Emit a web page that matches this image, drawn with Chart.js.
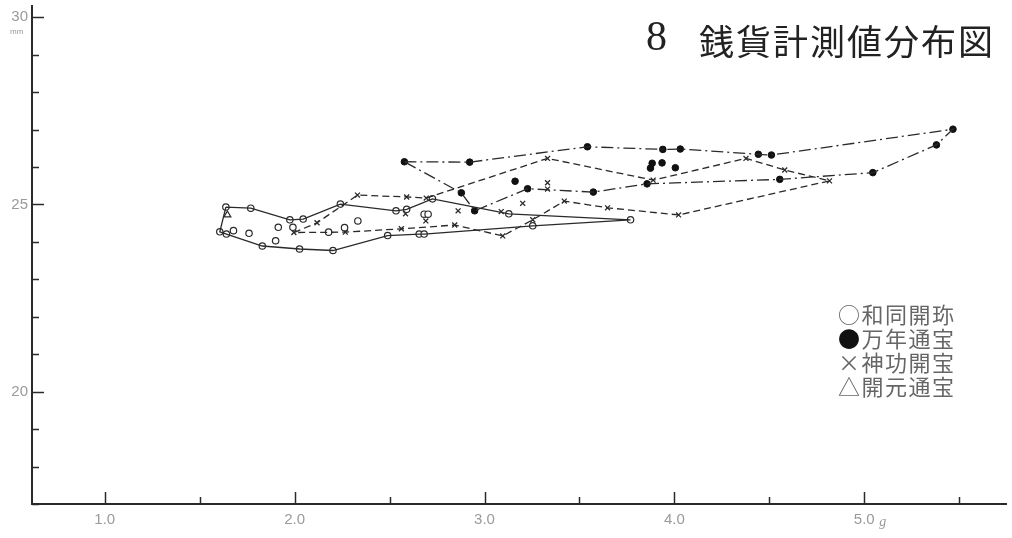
<!DOCTYPE html>
<html>
<head>
<meta charset="utf-8">
<script src="https://cdn.jsdelivr.net/npm/chart.js@4.4.1/dist/chart.umd.min.js"></script>
<style>
    body { margin: 0; background: #fff; }
    #wrap { position: relative; width: 1012px; height: 538px; }
    #title-num { position: absolute; left: 646px; top: 12px; font-family: "Liberation Serif", serif; font-size: 42px; color: #222; }
    #title-text { position: absolute; left: 699px; top: 14px; font-family: "Noto Sans CJK JP", sans-serif; font-size: 35px; letter-spacing: 2px; color: #222; }
    #legend { position: absolute; left: 838px; top: 301px; font-family: "Noto Sans CJK JP", sans-serif; font-size: 22px; line-height: 24px; letter-spacing: 1.5px; color: #666; }
    #unit { position: absolute; left: 10px; top: 27px; font-family: "Liberation Sans", sans-serif; font-size: 8px; color: #999; }
</style>
</head>
<body>
<div id="wrap">
    <canvas id="chart" width="1012" height="538"></canvas>
    <div id="title-num">8</div>
    <div id="title-text">銭貨計測値分布図</div>
    <div id="unit">mm</div>
    <div id="legend">
        <div>○和同開珎</div>
        <div><span style="color:#111">●</span>万年通宝</div>
        <div>×神功開宝</div>
        <div>△開元通宝</div>
    </div>
</div>
<script>
// weight (g) / diameter (mm)
const wadoX = [1.638, 1.769, 1.606, 1.678, 1.641, 1.760, 1.914, 1.975, 2.045, 1.991,
               1.900, 1.830, 2.026, 2.202, 2.241, 2.179, 2.263, 2.333, 2.490, 2.534,
               2.590, 2.656, 2.682, 2.682, 2.703, 2.726, 3.128, 3.254, 3.769];
const wadoY = [24.93, 24.90, 24.27, 24.30, 24.21, 24.23, 24.39, 24.59, 24.61, 24.39,
               24.03, 23.89, 23.81, 23.77, 25.01, 24.26, 24.38, 24.56, 24.17, 24.83,
               24.87, 24.21, 24.21, 24.74, 24.74, 25.15, 24.75, 24.43, 24.59];
const wadoHull = [0, 1, 7, 8, 14, 19, 20, 25, 26, 28, 27, 22, 21, 18, 13, 12, 11, 4, 2, 0];

const mannenX = [2.578, 2.922, 2.878, 2.948, 3.161, 3.227, 3.542, 3.573, 3.856, 3.883,
                 3.874, 3.935, 4.005, 3.939, 4.031, 4.442, 4.511, 5.467, 5.380, 5.045, 4.555];
const mannenY = [26.14, 26.13, 25.31, 24.83, 25.62, 25.42, 26.54, 25.33, 25.55, 26.10,
                 25.97, 26.11, 25.98, 26.47, 26.48, 26.34, 26.32, 27.01, 26.59, 25.85, 25.67];
const mannenHull = [0, 1, 6, 13, 14, 15, 16, 17, 18, 19, 20, 8, 7, 5, 3, 2, 0];

const jinkoX = [1.996, 2.118, 2.331, 2.590, 2.693, 2.584, 2.691, 2.267, 2.562, 2.843,
                2.861, 3.096, 3.254, 3.201, 3.332, 3.332, 3.332, 3.420, 3.648, 4.022,
                3.888, 4.377, 4.581, 4.817, 3.088];
const jinkoY = [24.25, 24.51, 25.25, 25.20, 25.17, 24.75, 24.56, 24.26, 24.35, 24.45,
                24.83, 24.16, 24.59, 25.03, 26.23, 25.58, 25.41, 25.09, 24.91, 24.72,
                25.65, 26.23, 25.92, 25.63, 24.81];
const jinkoHull = [0, 1, 2, 3, 4, 14, 20, 21, 22, 23, 19, 18, 17, 12, 11, 9, 8, 7, 0];

const kaigenX = [1.646];
const kaigenY = [24.72];

const xTicks = [1.0, 1.5, 2.0, 2.5, 3.0, 3.5, 4.0, 4.5, 5.0, 5.5];
const yTicks = [17, 18, 19, 20, 21, 22, 23, 24, 25, 26, 27, 28, 29, 30];

const pts = (xs, ys) => xs.map((x, i) => ({ x: x, y: ys[i] }));
const hull = (xs, ys, idx) => idx.map(i => ({ x: xs[i], y: ys[i] }));

const ink = '#2a2a2a';

// inward tick marks + the "g" after 5.0
const axisMarks = {
    id: 'axisMarks',
    afterDraw(chart) {
        const ctx = chart.ctx;
        const xs = chart.scales.x, ys = chart.scales.y;
        const area = chart.chartArea;
        ctx.save();
        ctx.strokeStyle = ink;
        ctx.lineWidth = 1.5;
        yTicks.forEach(v => {
            const py = Math.round(ys.getPixelForValue(v)) + 0.5;
            const len = v % 5 === 0 ? 12 : 7;
            ctx.beginPath();
            ctx.moveTo(area.left, py);
            ctx.lineTo(area.left + len, py);
            ctx.stroke();
        });
        xTicks.forEach(v => {
            const px = Math.round(xs.getPixelForValue(v)) + 0.5;
            const len = Number.isInteger(v) ? 12 : 7;
            ctx.beginPath();
            ctx.moveTo(px, area.bottom);
            ctx.lineTo(px, area.bottom - len);
            ctx.stroke();
        });
        ctx.fillStyle = '#9a9a9a';
        ctx.font = 'italic 14px "Liberation Serif"';
        ctx.textBaseline = 'middle';
        ctx.fillText('g', xs.getPixelForValue(5.0) + 15, area.bottom + 18);
        ctx.restore();
    }
};

const ctx = document.getElementById('chart').getContext('2d');
new Chart(ctx, {
    type: 'scatter',
    data: {
        datasets: [
            {
                label: '和同開珎 outline',
                data: hull(wadoX, wadoY, wadoHull),
                showLine: true,
                borderColor: ink,
                borderWidth: 1.3,
                pointRadius: 0
            },
            {
                label: '万年通宝 outline',
                data: hull(mannenX, mannenY, mannenHull),
                showLine: true,
                borderColor: ink,
                borderWidth: 1.3,
                borderDash: [12, 4, 2, 4],
                pointRadius: 0
            },
            {
                label: '神功開宝 outline',
                data: hull(jinkoX, jinkoY, jinkoHull),
                showLine: true,
                borderColor: ink,
                borderWidth: 1.3,
                borderDash: [7, 4],
                pointRadius: 0
            },
            {
                label: '和同開珎',
                data: pts(wadoX, wadoY),
                pointStyle: 'circle',
                pointRadius: 3.2,
                borderWidth: 1.2,
                borderColor: ink,
                backgroundColor: '#fff'
            },
            {
                label: '万年通宝',
                data: pts(mannenX, mannenY),
                pointStyle: 'circle',
                pointRadius: 3.3,
                borderWidth: 1,
                borderColor: '#111',
                backgroundColor: '#111'
            },
            {
                label: '神功開宝',
                data: pts(jinkoX, jinkoY),
                pointStyle: 'crossRot',
                pointRadius: 3.5,
                borderWidth: 1.3,
                borderColor: ink
            },
            {
                label: '開元通宝',
                data: pts(kaigenX, kaigenY),
                pointStyle: 'triangle',
                pointRadius: 4,
                borderWidth: 1.2,
                borderColor: ink,
                backgroundColor: '#fff'
            }
        ]
    },
    options: {
        responsive: false,
        animation: false,
        layout: { padding: { top: 6, right: 0, bottom: 0, left: 0 } },
        plugins: {
            legend: { display: false },
            tooltip: { enabled: false }
        },
        scales: {
            x: {
                type: 'linear',
                min: 0.617,
                max: 5.75,
                afterFit: s => { s.height = 34; s.paddingLeft = 0; s.paddingRight = 0; },
                border: { display: true, color: ink, width: 2 },
                grid: { display: false, drawTicks: false },
                ticks: {
                    stepSize: 0.5,
                    includeBounds: false,
                    autoSkip: false,
                    maxRotation: 0,
                    padding: 7,
                    color: '#9a9a9a',
                    font: { family: 'Liberation Sans', size: 15 },
                    callback: v => Number.isInteger(v) && v >= 1 ? v.toFixed(1) : ''
                }
            },
            y: {
                type: 'linear',
                min: 17,
                max: 30.3,
                afterFit: s => { s.width = 32; s.paddingTop = 0; s.paddingBottom = 0; },
                border: { display: true, color: ink, width: 2 },
                grid: { display: false, drawTicks: false },
                ticks: {
                    stepSize: 1,
                    includeBounds: false,
                    autoSkip: false,
                    padding: 4,
                    color: '#9a9a9a',
                    font: { family: 'Liberation Sans', size: 15 },
                    callback: v => v % 5 === 0 ? String(v) : ''
                }
            }
        }
    },
    plugins: [axisMarks]
});
</script>
</body>
</html>
